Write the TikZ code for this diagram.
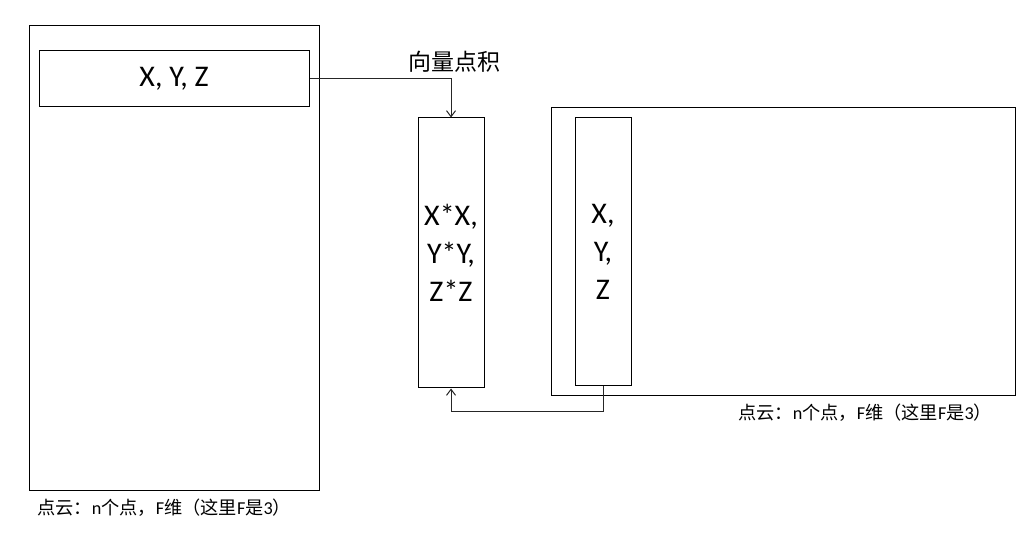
\documentclass[tikz,border=0pt]{standalone}
\usepackage{fontspec}
\setmainfont{Carlito}
\newfontfamily\cjk{Noto Sans CJK SC}
\usetikzlibrary{arrows.meta}
\tikzset{
  box/.style={draw=black, line width=1pt, inner sep=0pt, align=center},
  arr/.style={draw=black!85, line width=1pt, -{Straight Barb[length=6pt,width=9pt]}},
  bigtext/.style={font=\fontsize{30}{38}\selectfont},
  captext/.style={font=\fontsize{18.2}{22}\selectfont, anchor=west, inner sep=0pt}
}
\begin{document}
\begin{tikzpicture}[x=1pt,y=-1pt]
\useasboundingbox[fill=white] (0,0) rectangle (1026,553);
\node[box, minimum width=290pt, minimum height=464pt] (left) at (174,258) {};
\node[box, bigtext, minimum width=270pt, minimum height=56pt] (xyz) at (174,79) {X, Y, Z};
\node[box, bigtext, minimum width=66pt, minimum height=270pt] (mid) at (451,253) {X*X,\\Y*Y,\\Z*Z};
\node[box, minimum width=464pt, minimum height=288pt] (right) at (783,252) {};
\node[box, bigtext, minimum width=56pt, minimum height=268pt] (rin) at (603,252) {X,\\Y,\\Z};
\node[font=\cjk\fontsize{23}{26}\selectfont, inner sep=0pt] (lbl) at (454,62) {向量点积};
\draw[arr] (xyz.east) -| (mid.north);
\draw[arr] (rin.south) -- ++(0,25) -| (mid.south);
\node[captext] (cap1) at (37,508) {{\cjk 点云：}n{\cjk 个点，}F{\cjk 维（这里}F{\cjk 是}3{\cjk ）}};
\node[captext] (cap2) at (738,413) {{\cjk 点云：}n{\cjk 个点，}F{\cjk 维（这里}F{\cjk 是}3{\cjk ）}};
\end{tikzpicture}
\end{document}
